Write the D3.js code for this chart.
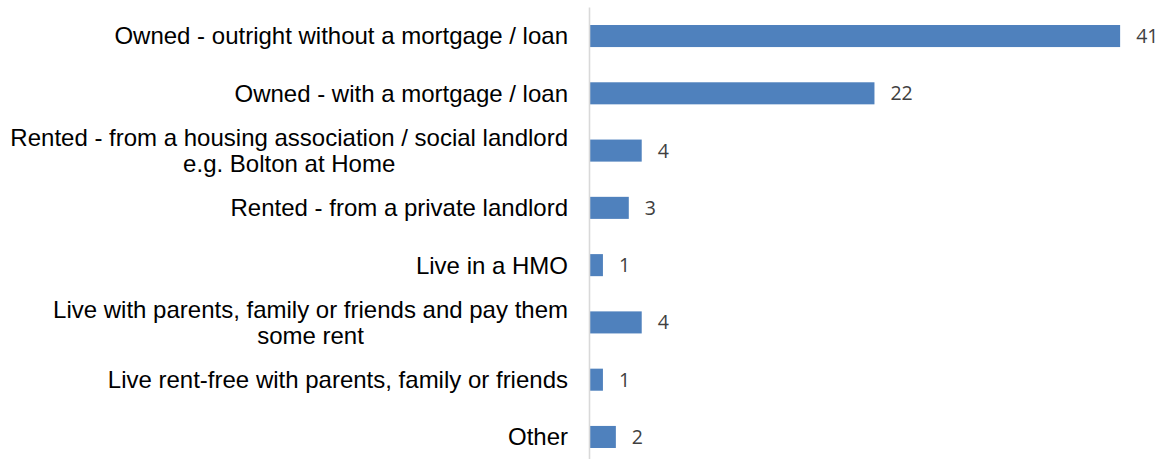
<!DOCTYPE html>
<html>
<head>
<meta charset="utf-8">
<script src="https://cdn.jsdelivr.net/npm/d3@7"></script>
<style>
  html, body { margin: 0; padding: 0; background: #ffffff; }
  svg { display: block; }
</style>
</head>
<body>
<svg id="chart" width="1162" height="459"></svg>
<script>
// Housing tenure responses (counts)
const categories = [
  ["Owned - outright without a mortgage / loan"],
  ["Owned - with a mortgage / loan"],
  ["Rented - from a housing association / social landlord", "e.g. Bolton at Home"],
  ["Rented - from a private landlord"],
  ["Live in a HMO"],
  ["Live with parents, family or friends and pay them", "some rent"],
  ["Live rent-free with parents, family or friends"],
  ["Other"]
];
const values = [41, 22, 4, 3, 1, 4, 1, 2];
const xMax = 45;

const axisX = 590;
const svg = d3.select("#chart");

const keys = categories.map(c => c.join(" "));

const x = d3.scaleLinear()
  .domain([0, xMax])
  .range([axisX, axisX + xMax * 12.93]);

const y = d3.scaleBand()
  .domain(keys)
  .range([7.4, 465.6])
  .paddingInner(0.615)
  .paddingOuter(0.3075);

// bars
svg.append("g")
  .selectAll("rect")
  .data(values)
  .join("rect")
  .attr("x", x(0))
  .attr("y", (d, i) => y(keys[i]))
  .attr("width", d => x(d) - x(0))
  .attr("height", y.bandwidth())
  .attr("fill", "#4f81bd");

// vertical category axis line
svg.append("line")
  .attr("x1", axisX - 0.5).attr("x2", axisX - 0.5)
  .attr("y1", y.range()[0]).attr("y2", y.range()[1])
  .attr("stroke", "#d9d9d9")
  .attr("stroke-width", 1.6);

// category labels: each block is centred, with its widest line ending at labelRight
const labelRight = 568;
const lineH = 26;
const labelG = svg.append("g")
  .attr("font-family", "'Liberation Sans', Arial, sans-serif")
  .attr("font-size", "24px")
  .attr("fill", "#000000");

categories.forEach((lines, i) => {
  const cy = y(keys[i]) + y.bandwidth() / 2;
  const t = labelG.append("text").attr("text-anchor", "middle");
  lines.forEach((ln, j) => {
    t.append("tspan")
      .attr("x", 0)
      .attr("y", cy + (j - (lines.length - 1) / 2) * lineH)
      .attr("dy", "0.35em")
      .text(ln);
  });
  const w = t.node().getBBox().width;
  t.selectAll("tspan").attr("x", labelRight - w / 2);
});

// value labels
svg.append("g")
  .attr("font-family", "'Open Sans', sans-serif")
  .attr("font-size", "19.5px")
  .attr("fill", "#404040")
  .selectAll("text")
  .data(values)
  .join("text")
  .attr("x", d => x(d) + 16)
  .attr("y", (d, i) => y(keys[i]) + y.bandwidth() / 2)
  .attr("dy", "0.36em")
  .text(d => d);
</script>
</body>
</html>
